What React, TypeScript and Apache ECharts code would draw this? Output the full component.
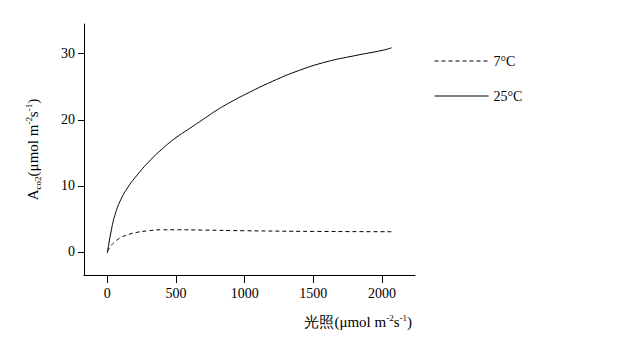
import React, { useEffect, useRef } from "react";
import * as echarts from "echarts";

const lightLevels25 = [0, 30, 60, 100, 150, 200, 300, 400, 500, 600, 700, 800, 900, 1000, 1200, 1400, 1600, 1800, 2000, 2070];
const a25 = [-0.2, 3.4, 5.9, 8.0, 9.8, 11.2, 13.6, 15.6, 17.3, 18.7, 20.1, 21.5, 22.7, 23.8, 25.8, 27.5, 28.8, 29.7, 30.5, 30.9];
const lightLevels7 = [0, 30, 60, 100, 150, 200, 300, 400, 500, 700, 1000, 1500, 2090];
const a7 = [0.1, 1.0, 1.6, 2.2, 2.6, 2.9, 3.2, 3.35, 3.35, 3.3, 3.2, 3.1, 3.05];
const yTicks = [0, 10, 20, 30];
const xTicks = [0, 500, 1000, 1500, 2000];
const seriesNames = ["7°C", "25°C"];

const FONT = "'Liberation Serif', 'Times New Roman', serif";

export default function App() {
  const ref = useRef<HTMLDivElement>(null);
  useEffect(() => {
    if (!ref.current) return;
    const chart = echarts.init(ref.current, undefined, { renderer: "svg" });
    const base = { fontFamily: FONT, color: "#000", fontSize: 14 };
    const sup = { fontFamily: FONT, color: "#000", fontSize: 9, verticalAlign: "top" as const, lineHeight: 18 };
    const sub = { fontFamily: FONT, color: "#000", fontSize: 9, verticalAlign: "bottom" as const, lineHeight: 18 };
    chart.setOption({
      animation: false,
      backgroundColor: "#fff",
      grid: { left: 84, top: 24, right: 212, bottom: 88, containLabel: false },
      legend: {
        orient: "vertical",
        left: 429,
        top: 49,
        itemWidth: 54,
        itemHeight: 14,
        itemGap: 21,
        padding: 5,
        itemStyle: { opacity: 0 },
        lineStyle: { width: 1 },
        data: seriesNames,
        textStyle: { fontFamily: FONT, fontSize: 14, color: "#000" },
      },
      xAxis: {
        type: "value",
        min: -170,
        max: 2240,
        splitLine: { show: false },
        axisLine: { onZero: false, lineStyle: { color: "#000", width: 1 } },
        axisTick: { customValues: xTicks, length: 8, lineStyle: { color: "#000" } },
        axisLabel: { customValues: xTicks, margin: 11, formatter: (v: number) => String(v), ...base },
        name: "{b|光照(μmol m}{p|-2}{b|s}{p|-1}{b|)}",
        nameLocation: "end",
        nameGap: -3,
        nameTextStyle: {
          align: "right",
          verticalAlign: "top",
          padding: [38, 0, 0, 0],
          rich: { b: { ...base, fontSize: 15, lineHeight: 18 }, p: sup },
        },
      },
      yAxis: {
        type: "value",
        min: -3.5,
        max: 34.5,
        splitLine: { show: false },
        axisLine: { show: true, onZero: false, lineStyle: { color: "#000", width: 1 } },
        axisTick: { show: true, customValues: yTicks, length: 6, lineStyle: { color: "#000" } },
        axisLabel: { customValues: yTicks, margin: 9, formatter: (v: number) => String(v), ...base },
        name: "{b|A}{s|co2}{b|(μmol m}{p|-2}{b|s}{p|-1}{b|)}",
        nameLocation: "middle",
        nameGap: 42,
        nameTextStyle: {
          rich: { b: { ...base, fontSize: 15, lineHeight: 18 }, p: sup, s: sub },
        },
      },
      series: [
        {
          name: seriesNames[0],
          type: "line",
          smooth: true,
          showSymbol: false,
          symbol: "none",
          data: lightLevels7.map((x, i) => [x, a7[i]]),
          lineStyle: { color: "#000", width: 1, type: [4, 3] },
          itemStyle: { color: "#000" },
        },
        {
          name: seriesNames[1],
          type: "line",
          smooth: true,
          showSymbol: false,
          symbol: "none",
          data: lightLevels25.map((x, i) => [x, a25[i]]),
          lineStyle: { color: "#000", width: 1 },
          itemStyle: { color: "#000" },
        },
      ],
    });
    return () => chart.dispose();
  }, []);
  return <div ref={ref} style={{ width: 627, height: 363, position: "absolute", left: 0, top: 0 }} />;
}
